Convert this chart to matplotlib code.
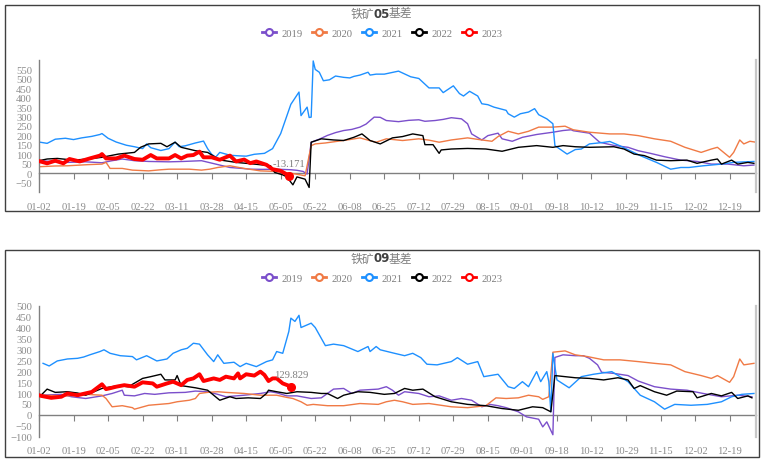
import matplotlib.pyplot as plt
from matplotlib.patches import Rectangle

years = ["2019", "2020", "2021", "2022", "2023"]
colors = ["#7B4FCB", "#F07A45", "#1E90FF", "#000000", "#FF0000"]

tick_days = [0, 17, 34, 51, 68, 85, 102, 119, 136, 153, 170, 187, 204, 221,
             238, 255, 272, 289, 306, 323, 340]
tick_labels = ["01-02", "01-19", "02-05", "02-22", "03-11", "03-28", "04-15",
               "05-05", "05-22", "06-08", "06-25", "07-12", "07-29", "08-15",
               "09-01", "09-18", "10-12", "10-29", "11-15", "12-02", "12-19"]

# 铁矿05基差 (day index, basis)
b05_2019 = [(0, 66), (1, 66), (8, 60), (14, 57), (23, 60), (31, 55), (36, 66), (41, 75),
            (47, 66), (54, 62), (64, 60), (71, 62), (80, 66), (87, 48), (94, 30), (100, 25),
            (104, 21), (110, 20), (117, 21), (124, 18), (127, 15), (130, 9), (132, -5),
            (134, 164), (138, 180), (142, 200), (146, 215), (150, 226), (154, 232), (158, 244),
            (161, 260), (165, 297), (168, 296), (171, 279), (177, 273), (182, 280), (187, 283),
            (190, 275), (195, 279), (199, 285), (203, 294), (208, 288), (211, 262), (213, 208),
            (218, 176), (221, 199), (226, 212), (228, 182), (233, 169), (238, 190), (245, 205),
            (253, 217), (258, 226), (262, 230), (263, 225), (271, 212), (276, 164), (283, 147),
            (290, 137), (295, 119), (301, 105), (308, 87), (316, 69), (324, 62), (331, 48),
            (339, 48), (347, 39), (352, 43)]
b05_2020 = [(0, 34), (8, 38), (14, 39), (24, 45), (31, 48), (33, 57), (35, 25), (41, 25),
            (46, 16), (54, 12), (60, 18), (64, 21), (74, 21), (80, 16), (84, 21), (88, 30),
            (94, 39), (101, 25), (109, 12), (117, 9), (125, -2), (131, -14), (134, 146),
            (136, 155), (141, 160), (147, 169), (153, 178), (158, 187), (162, 175), (166, 164),
            (171, 182), (179, 173), (187, 182), (192, 175), (197, 164), (203, 176), (211, 187),
            (218, 176), (223, 169), (226, 194), (231, 222), (236, 208), (241, 222), (246, 244),
            (253, 244), (259, 249), (263, 230), (271, 217), (281, 208), (288, 208), (295, 199),
            (303, 182), (311, 169), (318, 137), (326, 110), (331, 128), (334, 137), (340, 84),
            (342, 110), (345, 176), (347, 155), (350, 169), (353, 164)]
b05_2021 = [(0, 165), (4, 158), (8, 180), (13, 185), (17, 178), (21, 187), (26, 195), (30, 205),
            (31, 210), (34, 185), (38, 165), (43, 148), (47, 140), (51, 130), (53, 155), (55, 135),
            (60, 120), (64, 130), (67, 165), (69, 140), (72, 145), (77, 160), (81, 170), (83, 130),
            (85, 100), (87, 85), (89, 110), (94, 95), (98, 92), (102, 90), (106, 100), (111, 105),
            (115, 130), (119, 210), (124, 365), (128, 430), (129, 305), (132, 350), (133, 295),
            (134, 297), (135, 595), (136, 550), (138, 535), (140, 490), (143, 495), (146, 515),
            (150, 508), (153, 505), (155, 513), (158, 520), (162, 535), (163, 520), (166, 525),
            (170, 525), (177, 541), (183, 511), (187, 502), (192, 452), (197, 452), (199, 427),
            (204, 463), (207, 422), (209, 409), (212, 434), (216, 409), (218, 368), (221, 363),
            (224, 350), (230, 333), (231, 315), (234, 297), (237, 315), (241, 324), (244, 342),
            (246, 310), (250, 288), (253, 262), (254, 146), (260, 101), (264, 125), (267, 128),
            (271, 155), (278, 163), (281, 168), (286, 145), (291, 119), (296, 93), (304, 57),
            (311, 21), (316, 30), (320, 30), (327, 39), (336, 48), (342, 57), (352, 62)]
b05_2022 = [(0, 66), (4, 75), (9, 78), (17, 69), (24, 75), (31, 84), (39, 101), (47, 110),
            (50, 137), (54, 155), (60, 158), (63, 140), (67, 164), (70, 137), (77, 119), (83, 110),
            (89, 70), (97, 57), (106, 48), (114, 39), (116, 4), (120, -9), (122, -20), (125, -62),
            (127, -20), (131, -32), (133, -76), (134, 164), (139, 182), (145, 176), (150, 173),
            (155, 190), (159, 208), (163, 173), (168, 155), (174, 187), (179, 194), (184, 208),
            (189, 199), (190, 151), (194, 151), (197, 105), (198, 123), (203, 128), (211, 131),
            (220, 128), (228, 116), (236, 137), (245, 146), (253, 137), (258, 146), (264, 140),
            (271, 137), (283, 140), (288, 128), (293, 101), (298, 93), (304, 69), (311, 66),
            (319, 69), (324, 52), (331, 69), (334, 75), (336, 48), (341, 69), (344, 48),
            (349, 57), (352, 52)]
b05_2023 = [(0, 64), (4, 52), (8, 66), (12, 52), (15, 75), (20, 62), (25, 78), (30, 93),
            (31, 101), (33, 78), (38, 78), (42, 93), (47, 75), (51, 71), (55, 96), (58, 78),
            (64, 78), (67, 96), (70, 78), (73, 93), (76, 96), (79, 114), (81, 84), (85, 84),
            (89, 71), (94, 93), (97, 62), (101, 72), (104, 53), (107, 62), (112, 44), (115, 21),
            (119, 12), (123, -13.171)]

# 铁矿09基差 (day index, basis)
b09_2019 = [(1, 90), (11, 94), (16, 83), (23, 75), (31, 87), (36, 98), (41, 113), (42, 90),
            (47, 87), (52, 98), (57, 94), (64, 101), (72, 103), (77, 109), (83, 106), (88, 94),
            (92, 83), (101, 90), (109, 98), (114, 106), (117, 101), (122, 87), (127, 87),
            (134, 75), (139, 78), (145, 118), (150, 121), (154, 98), (158, 113), (167, 118),
            (171, 129), (174, 113), (177, 90), (180, 106), (187, 98), (192, 83), (197, 87),
            (203, 67), (208, 75), (213, 67), (218, 37), (222, 48), (226, 42), (230, 33),
            (236, 14), (240, -9), (246, -20), (248, -55), (250, -32), (253, -91), (254, 263),
            (258, 275), (264, 271), (268, 271), (271, 259), (275, 229), (277, 195), (283, 190),
            (290, 180), (295, 155), (303, 129), (311, 118), (319, 113), (327, 98), (336, 83),
            (344, 90), (351, 83)]
b09_2020 = [(0, 90), (14, 87), (23, 94), (31, 90), (33, 75), (36, 37), (41, 42), (46, 33),
            (47, 26), (54, 44), (64, 52), (68, 60), (74, 67), (77, 75), (79, 98), (83, 103),
            (88, 106), (92, 103), (101, 98), (109, 90), (117, 90), (122, 80), (125, 75),
            (129, 60), (132, 44), (135, 48), (142, 42), (150, 42), (158, 52), (167, 48),
            (171, 60), (175, 67), (179, 60), (184, 48), (192, 52), (203, 37), (211, 33),
            (220, 42), (225, 78), (230, 75), (236, 78), (241, 90), (246, 83), (248, 71),
            (251, 83), (253, 287), (259, 293), (264, 275), (270, 267), (278, 252), (286, 252),
            (295, 244), (303, 236), (311, 229), (318, 198), (326, 180), (331, 167), (334, 180),
            (340, 149), (342, 175), (345, 256), (347, 229), (352, 236)]
b09_2021 = [(2, 236), (5, 224), (9, 247), (14, 256), (19, 259), (22, 265), (25, 275), (30, 290),
            (32, 298), (35, 282), (40, 271), (46, 267), (48, 252), (53, 271), (58, 247), (63, 256),
            (66, 282), (70, 298), (73, 305), (76, 328), (79, 324), (83, 275), (86, 244), (88, 275),
            (91, 236), (96, 241), (99, 221), (102, 236), (107, 221), (112, 244), (115, 252),
            (117, 290), (120, 282), (123, 382), (124, 443), (126, 428), (128, 456), (129, 400),
            (134, 420), (136, 400), (141, 317), (145, 324), (150, 317), (157, 290), (162, 313),
            (163, 290), (166, 313), (168, 298), (175, 282), (180, 271), (184, 282), (188, 262),
            (191, 232), (196, 229), (203, 244), (206, 262), (211, 232), (216, 244), (219, 175),
            (226, 186), (231, 129), (234, 121), (238, 152), (241, 129), (245, 198), (247, 152),
            (250, 198), (251, 152), (252, 14), (253, 282), (255, 160), (261, 124), (267, 175),
            (273, 186), (282, 198), (290, 152), (296, 90), (303, 60), (308, 26), (313, 48),
            (321, 44), (329, 48), (336, 60), (341, 83), (346, 94), (352, 98)]
b09_2022 = [(1, 90), (4, 118), (8, 103), (14, 106), (19, 100), (23, 90), (31, 121), (39, 134),
            (44, 129), (51, 167), (55, 175), (60, 186), (62, 160), (67, 160), (68, 180), (70, 134),
            (77, 124), (83, 113), (86, 90), (89, 67), (94, 83), (97, 75), (103, 78), (109, 75),
            (112, 98), (113, 113), (117, 106), (122, 98), (127, 106), (134, 103), (139, 98),
            (142, 98), (147, 75), (150, 90), (157, 106), (163, 103), (170, 94), (175, 98),
            (180, 121), (184, 113), (189, 118), (195, 83), (203, 60), (211, 48), (220, 42),
            (228, 29), (236, 21), (243, 37), (248, 33), (252, 14), (254, 180), (259, 175),
            (264, 170), (271, 167), (278, 160), (285, 170), (290, 160), (293, 121), (296, 134),
            (303, 106), (309, 90), (314, 109), (322, 106), (324, 78), (331, 98), (336, 87),
            (341, 103), (344, 75), (349, 87), (351, 78)]
b09_2023 = [(0, 90), (1, 87), (6, 78), (11, 83), (14, 98), (19, 90), (26, 105), (31, 140),
            (33, 118), (35, 122), (38, 129), (42, 136), (47, 129), (51, 149), (56, 144), (58, 129),
            (63, 144), (66, 152), (70, 136), (73, 160), (76, 167), (79, 186), (81, 155), (86, 167),
            (89, 160), (92, 175), (96, 167), (98, 190), (99, 167), (102, 186), (106, 180),
            (109, 198), (111, 183), (113, 155), (115, 167), (117, 167), (120, 144), (124, 129.829)]

panels = [
    {"title": "05", "series": [b05_2019, b05_2020, b05_2021, b05_2022, b05_2023],
     "ylim": (-100, 600), "yticks": list(range(-50, 551, 50)),
     "rect": [39 / 764, 1 - 193 / 464, 717 / 764, 132 / 464],
     "frame": (5 / 764, 1 - 212 / 464, 754 / 764, 206 / 464),
     "title_y": 1 - 14 / 464, "legend_y": 1 - 34 / 464},
    {"title": "09", "series": [b09_2019, b09_2020, b09_2021, b09_2022, b09_2023],
     "ylim": (-100, 500), "yticks": list(range(-100, 501, 50)),
     "rect": [39 / 764, 1 - 437.7 / 464, 717 / 764, 131 / 464],
     "frame": (5 / 764, 1 - 458 / 464, 754 / 764, 207 / 464),
     "title_y": 1 - 259 / 464, "legend_y": 1 - 279 / 464},
]

plt.rcParams["font.family"] = ["Liberation Serif", "Noto Sans CJK SC", "DejaVu Sans"]
label_gray = "#8c8c8c"
axis_gray = "#808080"

fig = plt.figure(figsize=(7.64, 4.64), dpi=100)

for p in panels:
    fig.add_artist(Rectangle(p["frame"][:2], p["frame"][2], p["frame"][3],
                             transform=fig.transFigure, fill=False,
                             edgecolor="#404040", linewidth=1.0))
    ax = fig.add_axes(p["rect"])
    handles = []
    for year, color, data in zip(years, colors, p["series"]):
        days = [d for d, _ in data]
        vals = [v for _, v in data]
        lw = 2.8 if year == "2023" else 1.0
        ax.plot(days, vals, color=color, lw=lw, zorder=3 if year == "2023" else 2,
                solid_joinstyle="round")
        h, = ax.plot([], [], color=color, lw=2, marker="o", markersize=5,
                     markerfacecolor="white", markeredgewidth=1.5)
        handles.append(h)
        if year == "2023":
            ax.plot(days[-1], vals[-1], "o", color=color, markersize=5.5, zorder=4)
            ax.annotate(f"{vals[-1]:.3f}", (days[-1], vals[-1]), xytext=(0, 9),
                        textcoords="offset points", ha="center", va="center",
                        fontsize=7.7, color="#7f7f7f")

    ax.set_xlim(0, 353)
    ax.set_ylim(*p["ylim"])
    ax.set_yticks(p["yticks"])
    ax.tick_params(axis="y", length=0, pad=5, labelsize=7.7, labelcolor=label_gray)
    ax.set_xticks(tick_days)
    ax.set_xticklabels(tick_labels)
    ax.tick_params(axis="x", length=0, pad=7, labelsize=7.7, labelcolor=label_gray)
    ax.spines["top"].set_visible(False)
    ax.spines["bottom"].set_visible(False)
    ax.spines["left"].set_color(axis_gray)
    ax.spines["left"].set_linewidth(1.0)
    ax.spines["right"].set_color("#c8c8c8")
    ax.spines["right"].set_linewidth(1.6)

    zero_frac = -p["ylim"][0] / (p["ylim"][1] - p["ylim"][0])
    sec = ax.secondary_xaxis(zero_frac)
    sec.set_xticks(tick_days)
    sec.tick_params(axis="x", direction="out", length=4, color=axis_gray,
                    labelbottom=False)
    sec.spines["bottom"].set_color(axis_gray)
    sec.spines["bottom"].set_linewidth(1.0)

    fig.text(374 / 764, p["title_y"], "铁矿", ha="right", va="center", fontsize=8.5,
             color="#7f7f7f", family="Noto Sans CJK SC")
    fig.text(381.5 / 764, p["title_y"], p["title"], ha="center", va="center",
             fontsize=8.5, color="#404040", fontweight="bold", family="DejaVu Sans")
    fig.text(389 / 764, p["title_y"], "基差", ha="left", va="center", fontsize=8.5,
             color="#7f7f7f", family="Noto Sans CJK SC")

    fig.legend(handles, years, loc="center", bbox_to_anchor=(0.5, p["legend_y"]),
               ncol=5, frameon=False, fontsize=7.7, labelcolor="#7f7f7f",
               handlelength=1.3, handletextpad=0.5, columnspacing=0.9)

fig.savefig("out.png", dpi=100)
